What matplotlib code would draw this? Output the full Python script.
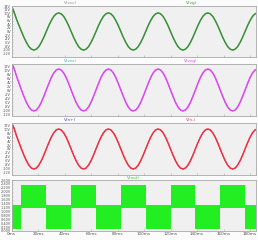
import numpy as np
import matplotlib.pyplot as plt

# time grid in ms: start point, start spike, then 1.875 ms samples
t = np.concatenate([[0.0, 0.75], 1.875 * np.arange(1, 100)])

# pane 1: V(vcc) / V(vg)
v_vg = [0.0, 12.9,
        10.8, 6.8, 3.4, 0.0, -3.2, -6.0, -8.3, -9.7, -10.2, -9.7, -8.3, -6.0, -3.2, 0.0, 3.2, 6.0, 8.3, 9.7, 10.2,
        9.7, 8.3, 6.0, 3.2, 0.0, -3.2, -6.0, -8.3, -9.7, -10.2, -9.7, -8.3, -6.0, -3.2, 0.0, 3.2, 6.0, 8.3, 9.7, 10.2,
        9.7, 8.3, 6.0, 3.2, 0.0, -3.2, -6.0, -8.3, -9.7, -10.2, -9.7, -8.3, -6.0, -3.2, 0.0, 3.2, 6.0, 8.3, 9.7, 10.2,
        9.7, 8.3, 6.0, 3.2, 0.0, -3.2, -6.0, -8.3, -9.7, -10.2, -9.7, -8.3, -6.0, -3.2, 0.0, 3.2, 6.0, 8.3, 9.7, 10.2,
        9.7, 8.3, 6.0, 3.2, 0.0, -3.2, -6.0, -8.3, -9.7, -10.2, -9.7, -8.3, -6.0, -3.2, 0.0, 3.2, 6.0, 8.3, 9.7, 10.2]

# pane 2: V(vcs) / V(vcg)
v_vcg = [0.0, 12.5,
         11.0, 7.0, 3.5, 0.0, -3.2, -6.2, -8.5, -10.0, -10.5, -10.0, -8.5, -6.2, -3.2, 0.0, 3.2, 6.2, 8.5, 10.0, 10.5,
         10.0, 8.5, 6.2, 3.2, 0.0, -3.2, -6.2, -8.5, -10.0, -10.5, -10.0, -8.5, -6.2, -3.2, 0.0, 3.2, 6.2, 8.5, 10.0, 10.5,
         10.0, 8.5, 6.2, 3.2, 0.0, -3.2, -6.2, -8.5, -10.0, -10.5, -10.0, -8.5, -6.2, -3.2, 0.0, 3.2, 6.2, 8.5, 10.0, 10.5,
         10.0, 8.5, 6.2, 3.2, 0.0, -3.2, -6.2, -8.5, -10.0, -10.5, -10.0, -8.5, -6.2, -3.2, 0.0, 3.2, 6.2, 8.5, 10.0, 10.5,
         10.0, 8.5, 6.2, 3.2, 0.0, -3.2, -6.2, -8.5, -10.0, -10.5, -10.0, -8.5, -6.2, -3.2, 0.0, 3.2, 6.2, 8.5, 10.0, 10.5]

# pane 3: V(n+) / V(n-)
v_nm = [0.0, 12.6,
        10.9, 6.9, 3.4, 0.0, -3.2, -6.1, -8.4, -9.9, -10.4, -9.9, -8.4, -6.1, -3.2, 0.0, 3.2, 6.1, 8.4, 9.9, 10.4,
        9.9, 8.4, 6.1, 3.2, 0.0, -3.2, -6.1, -8.4, -9.9, -10.4, -9.9, -8.4, -6.1, -3.2, 0.0, 3.2, 6.1, 8.4, 9.9, 10.4,
        9.9, 8.4, 6.1, 3.2, 0.0, -3.2, -6.1, -8.4, -9.9, -10.4, -9.9, -8.4, -6.1, -3.2, 0.0, 3.2, 6.1, 8.4, 9.9, 10.4,
        9.9, 8.4, 6.1, 3.2, 0.0, -3.2, -6.1, -8.4, -9.9, -10.4, -9.9, -8.4, -6.1, -3.2, 0.0, 3.2, 6.1, 8.4, 9.9, 10.4,
        9.9, 8.4, 6.1, 3.2, 0.0, -3.2, -6.1, -8.4, -9.9, -10.4, -9.9, -8.4, -6.1, -3.2, 0.0, 3.2, 6.1, 8.4, 9.9, 10.4]

# pane 4: V(out) PWM envelope blocks (start ms, end ms, low V, high V)
blk_start = [0.0, 0.75, 7.5, 26.25, 45.0, 63.75, 82.5, 101.25, 120.0, 138.75, 157.5, 176.25]
blk_end = [0.75, 7.5, 26.25, 45.0, 63.75, 82.5, 101.25, 120.0, 138.75, 157.5, 176.25, 185.0]
blk_lo = [0.15, 0.12, 1.15, 0.12, 1.15, 0.12, 1.15, 0.12, 1.15, 0.12, 1.15, 0.12]
blk_hi = [1.75, 1.32, 2.35, 1.32, 2.35, 1.32, 2.35, 1.32, 2.35, 1.32, 2.35, 1.32]

x_ticks = [0, 20, 40, 60, 80, 100, 120, 140, 160, 180]
x_labels = ["0ms", "20ms", "40ms", "60ms", "80ms", "100ms", "120ms", "140ms", "160ms", "180ms"]

FS = 3.0
YFS = 2.5
BG = "#f0f0f0"
EDGE = "#a8a8a8"

fig = plt.figure(figsize=(2.58, 2.40), dpi=100)
fig.patch.set_facecolor("#fbfbfb")

# pane boxes in pixels (top, bottom)
panes = [(6, 57), (64, 116), (123, 175), (180, 231)]
L, R = 11.5, 256
axes = []
for top, bot in panes:
    ax = fig.add_axes([L / 258, 1 - bot / 240, (R - L) / 258, (bot - top) / 240])
    ax.set_facecolor(BG)
    for s in ax.spines.values():
        s.set_color(EDGE)
        s.set_linewidth(0.6)
    ax.set_xlim(0, 184.5)
    ax.set_xticks(x_ticks)
    ax.tick_params(axis="x", direction="in", length=1.2, width=0.4, color=EDGE,
                   labelsize=FS, labelcolor="#555555", pad=1.0)
    ax.tick_params(axis="y", direction="in", length=1.0, width=0.4, color=EDGE,
                   labelsize=YFS, labelcolor="#555555", pad=0.4)
    ax.set_xticklabels([])
    axes.append(ax)


def volt_ticks(ax, lo, hi, step, fmt):
    ticks = np.arange(lo, hi + step / 2, step)
    ax.set_yticks(ticks)
    ax.set_yticklabels([fmt.format(v) for v in ticks])


ax1, ax2, ax3, ax4 = axes

# the first trace of each pane lies under the second one
ax1.plot(t, v_vg, color="#909090", lw=0.5)
ax1.plot(t, v_vg, color="#38923a", lw=1.1)
ax1.set_ylim(-14, 14)
volt_ticks(ax1, -12, 14, 2, "{:.0f}V")

ax2.plot(t, v_vcg, color="#30b8c8", lw=0.5)
ax2.plot(t, v_vcg, color="#e244f2", lw=1.1)
ax2.set_ylim(-13, 13)
volt_ticks(ax2, -12, 12, 2, "{:.0f}V")

ax3.plot(t, v_nm, color="#4040ff", lw=0.5)
ax3.plot(t, v_nm, color="#f4303e", lw=1.1)
ax3.set_ylim(-13.5, 13.5)
volt_ticks(ax3, -12, 12, 2, "{:.0f}V")

heights = [h - l for h, l in zip(blk_hi, blk_lo)]
widths = [e - s for s, e in zip(blk_start, blk_end)]
ax4.bar(blk_start, heights, width=widths, bottom=blk_lo, align="edge",
        color="#22ee22", linewidth=0)
ax4.set_ylim(0, 2.6)
volt_ticks(ax4, 0.0, 2.6, 0.2, "{:.2f}V")
ax4.set_xticklabels(x_labels)

# trace labels
fig.text(71 / 258, 1 - 3 / 240, "V(vcc)", color="#909090", fontsize=FS, ha="center", va="center")
fig.text(192 / 258, 1 - 3 / 240, "V(vg)", color="#3a9a3a", fontsize=FS, ha="center", va="center")
fig.text(70 / 258, 1 - 61 / 240, "V(vcs)", color="#30b8c8", fontsize=FS, ha="center", va="center")
fig.text(191 / 258, 1 - 61 / 240, "V(vcg)", color="#e040f0", fontsize=FS, ha="center", va="center")
fig.text(70 / 258, 1 - 120 / 240, "V(n+)", color="#4040ff", fontsize=FS, ha="center", va="center")
fig.text(191 / 258, 1 - 120 / 240, "V(n-)", color="#f04050", fontsize=FS, ha="center", va="center")
fig.text(133 / 258, 1 - 178 / 240, "V(out)", color="#22cc22", fontsize=FS, ha="center", va="center")

fig.savefig("out.png", dpi=100)
